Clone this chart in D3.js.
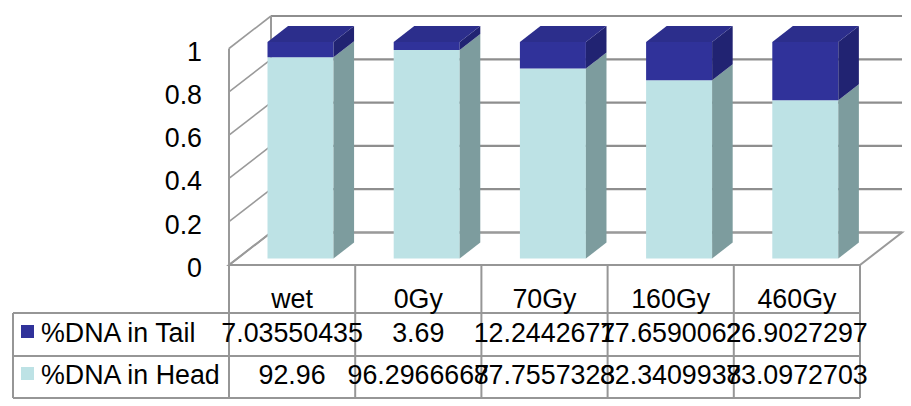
<!DOCTYPE html>
<html>
<head>
<meta charset="utf-8">
<script src="https://cdn.jsdelivr.net/npm/d3@7"></script>
<style>
  html, body { margin: 0; padding: 0; background: #fff; }
  svg { display: block; }
  text { font-family: "Liberation Sans", Arial, sans-serif; fill: #000; }
</style>
</head>
<body>
<svg id="chart" width="911" height="406"></svg>
<script>
// Comet assay: share of DNA in comet head vs. tail per treatment
const categories = ["wet", "0Gy", "70Gy", "160Gy", "460Gy"];
const tailValues = [7.03550435, 3.69, 12.2442677, 17.6590062, 26.9027297];
const headValues = [92.96, 96.2966667, 87.7557323, 82.3409938, 73.0972703];
const seriesNames = ["%DNA in Tail", "%DNA in Head"];
const yTicks = [0, 0.2, 0.4, 0.6, 0.8, 1];

const colors = {
  tail: { front: "#30329a", side: "#212372", top: "#2c2e8c" },
  head: { front: "#bde2e5", side: "#7d9c9e", top: "#d3eef0" },
  wall: "#9a9a9a",
  grid: "#8e8e8e",
  table: "#969696"
};

const svg = d3.select("#chart");
const FONT = 26.8;

// Front plane of the plot box and the depth offset to its back plane
const x0 = 229, x1 = 860;
const depthX = 42, depthY = 32.5;

const y = d3.scaleLinear().domain([0, 1]).range([265, 48.5]);
const xCol = d3.scaleBand().domain(categories).range([x0, x1]).padding(0);
const xBar = d3.scaleBand().domain(categories).range([x0, x1])
  .paddingInner(0.477).paddingOuter(0.2385);

// project (front-plane x, value, depth 0..1) to screen
const P = (xf, v, z) => [xf + z * depthX, y(v) - z * depthY];
const poly = pts => pts.map(p => p.join(",")).join(" ");

// ---- walls ----
const walls = svg.append("g");
// left wall gridlines (diagonals) and back wall gridlines
yTicks.forEach(t => {
  const a = P(x0, t, 0), b = P(x0, t, 1), c = P(x1, t, 1);
  walls.append("line")
    .attr("x1", a[0]).attr("y1", a[1]).attr("x2", b[0]).attr("y2", b[1])
    .attr("stroke", colors.wall).attr("stroke-width", 1.6);
  walls.append("line")
    .attr("x1", b[0]).attr("y1", b[1]).attr("x2", c[0]).attr("y2", c[1])
    .attr("stroke", colors.grid).attr("stroke-width", 2.2);
});
// left wall front edge and back corner edge
[[P(x0, 0, 0), P(x0, 1, 0)], [P(x0, 0, 1), P(x0, 1, 1)]].forEach(([a, b]) => {
  walls.append("line")
    .attr("x1", a[0]).attr("y1", a[1]).attr("x2", b[0]).attr("y2", b[1])
    .attr("stroke", colors.wall).attr("stroke-width", 2);
});
// floor outline
walls.append("polygon")
  .attr("points", poly([P(x0, 0, 0), P(x1, 0, 0), P(x1, 0, 1), P(x0, 0, 1)]))
  .attr("fill", "none").attr("stroke", colors.wall).attr("stroke-width", 2);

// ---- y axis labels ----
const yAxis = d3.axisLeft(y).tickValues(yTicks).tickSize(0).tickPadding(0)
  .tickFormat(d3.format("~g"));
const axisG = svg.append("g").attr("transform", `translate(202,3)`).call(yAxis);
axisG.select(".domain").remove();
axisG.selectAll("text")
  .attr("font-size", FONT)
  .attr("font-family", '"Liberation Sans", Arial, sans-serif')
  .attr("fill", "#000");

// ---- 3D stacked bars ----
const zA = 0.2, zB = 0.69;
const stackData = categories.map((c, i) => {
  const total = headValues[i] + tailValues[i];
  const h = headValues[i] / total;
  return { c, segs: [
    { key: "head", v0: 0, v1: h },
    { key: "tail", v0: h, v1: 1 }
  ]};
});

const bars = svg.append("g");
stackData.forEach(d => {
  const bx0 = xBar(d.c), bx1 = bx0 + xBar.bandwidth();
  d.segs.forEach((s, si) => {
    const col = colors[s.key];
    const g = bars.append("g");
    // front face
    g.append("polygon")
      .attr("points", poly([P(bx0, s.v0, zA), P(bx1, s.v0, zA), P(bx1, s.v1, zA), P(bx0, s.v1, zA)]))
      .attr("fill", col.front);
    // right side face
    g.append("polygon")
      .attr("points", poly([P(bx1, s.v0, zA), P(bx1, s.v0, zB), P(bx1, s.v1, zB), P(bx1, s.v1, zA)]))
      .attr("fill", col.side);
    // top face on the topmost segment
    if (si === d.segs.length - 1) {
      g.append("polygon")
        .attr("points", poly([P(bx0, s.v1, zA), P(bx1, s.v1, zA), P(bx1, s.v1, zB), P(bx0, s.v1, zB)]))
        .attr("fill", col.top);
    }
  });
});

// ---- data table ----
const table = svg.append("g");
const rowY = [265, 313, 356, 398];
const legendLeft = 13;
const tline = (xa, ya, xb, yb) => table.append("line")
  .attr("x1", xa).attr("y1", ya).attr("x2", xb).attr("y2", yb)
  .attr("stroke", colors.table).attr("stroke-width", 2);

// column separators
categories.forEach(c => tline(xCol(c), rowY[0], xCol(c), rowY[3]));
tline(x1, rowY[0], x1, rowY[3]);
// row lines
tline(x0, rowY[0], x1, rowY[0]);
[1, 2, 3].forEach(r => tline(legendLeft, rowY[r], x1, rowY[r]));
tline(legendLeft, rowY[1], legendLeft, rowY[3]);

// category header
table.selectAll("text.cat").data(categories).join("text")
  .attr("class", "cat")
  .attr("x", c => xCol(c) + xCol.bandwidth() / 2)
  .attr("y", 308)
  .attr("text-anchor", "middle")
  .attr("font-size", FONT)
  .text(c => c);

// series rows
const rows = [
  { name: seriesNames[0], values: tailValues, color: colors.tail.front, base: 342 },
  { name: seriesNames[1], values: headValues, color: colors.head.front, base: 384 }
];
rows.forEach(r => {
  table.append("rect")
    .attr("x", 21).attr("y", r.base - 17).attr("width", 13).attr("height", 13)
    .attr("fill", r.color);
  table.append("text")
    .attr("x", 41).attr("y", r.base)
    .attr("font-size", FONT)
    .text(r.name);
  table.selectAll(null).data(r.values).join("text")
    .attr("x", (v, i) => xCol(categories[i]) + xCol.bandwidth() / 2)
    .attr("y", r.base)
    .attr("text-anchor", "middle")
    .attr("font-size", FONT)
    .text(v => String(v));
});
</script>
</body>
</html>
